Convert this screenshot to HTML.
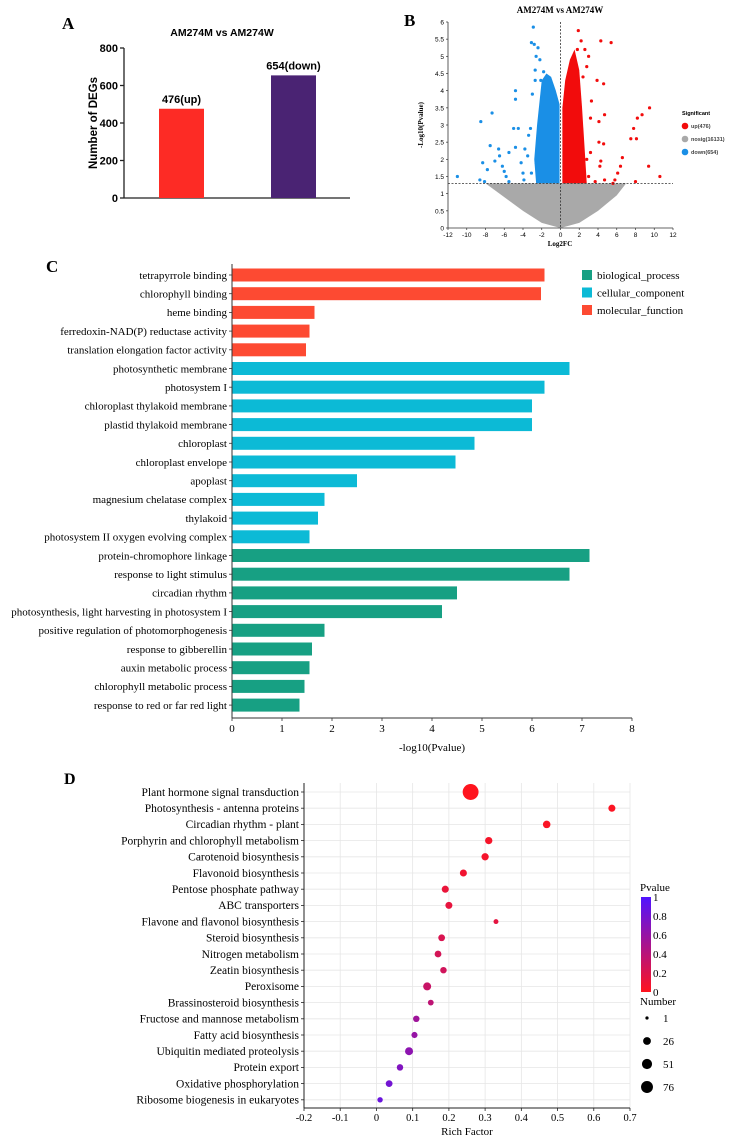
<!DOCTYPE html>
<html><head><meta charset="utf-8"><style>
html,body{margin:0;padding:0;background:#fff;}
svg{display:block;}
.sans{font-family:"Liberation Sans",sans-serif;}
.serif{font-family:"Liberation Serif",serif;}
</style></head><body>
<svg id="fig" width="733" height="1145" viewBox="0 0 733 1145" xmlns="http://www.w3.org/2000/svg">
<g id="pA"></g>
<g id="pB"></g>
<g id="pC"></g>
<g id="pD"></g>
</svg>
<script>
// ---------- Panel A data ----------
const aCats = ["up","down"];
const aVals = [476, 654];
const aLabels = ["476(up)","654(down)"];
const aTicks = [0,200,400,600,800];
// ---------- Panel B data ----------
const bBlueX = [-11,-8.5,-7.3,-8.3,-7.8,-7.5,-7,-6.6,-6.5,-6.2,-6,-5.8,-5.5,-5.5,-5,-4.8,-4.5,-4.2,-4,-3.9,-3.8,-3.4,-3.2,-3,-2.9,-3.1,-2.8,-2.4,-2.6,-2.7,-2.2,-2.7,-4.8,-4.8,-8.6,-8.1,-3.5,-2.6,-3.1,-1.8,-2.1];
const bBlueY = [1.5,3.1,3.35,1.9,1.7,2.4,1.95,2.3,2.1,1.8,1.65,1.5,1.35,2.2,2.9,2.35,2.9,1.9,1.6,1.4,2.3,2.7,2.9,3.9,5.85,5.4,5.35,5.25,5.0,4.6,4.9,4.3,4.0,3.75,1.4,1.35,2.1,1.9,1.6,4.55,4.3];
const bRedX = [1.9,2.2,4.3,5.4,1.8,2.6,3.0,2.8,3.9,4.6,2.4,3.3,4.7,4.1,3.2,9.5,8.7,8.2,7.8,8.1,7.5,4.1,4.6,6.6,6.4,6.1,5.8,5.6,9.4,10.6,8,4.3,3.2,2.8,4.2,4.7,3.7,3.0];
const bRedY = [5.75,5.45,5.45,5.4,5.2,5.2,5.0,4.7,4.3,4.2,4.4,3.7,3.3,3.1,3.2,3.5,3.3,3.2,2.9,2.6,2.6,2.5,2.45,2.05,1.8,1.6,1.4,1.3,1.8,1.5,1.35,1.95,2.2,2.0,1.8,1.4,1.35,1.5];
const bBlueEnvX = [-0.1,-0.1,-0.5,-1,-1.5,-2,-2.5,-2.8,-2.6];
const bBlueEnvY = [1.3,3.6,4.0,4.4,4.5,4.3,3.0,2.0,1.3];
const bRedEnvX = [0.2,0.2,0.5,1,1.5,2,2.3,2.6,2.8];
const bRedEnvY = [1.3,3.5,4.3,4.9,5.2,4.6,3.5,2.2,1.3];
const bGreyEnvX = [-8,-6,-4,-2,0,2,4,6,7];
const bGreyEnvY = [1.3,0.9,0.5,0.15,0,0.15,0.5,0.95,1.3];
const bXTicks = [-12,-10,-8,-6,-4,-2,0,2,4,6,8,10,12];
const bYTicks = [0,0.5,1,1.5,2,2.5,3,3.5,4,4.5,5,5.5,6];
const bLegend = ["up(476)","nosig(16131)","down(654)"];
// ---------- Panel C data ----------
const cTerms = ["tetrapyrrole binding","chlorophyll binding","heme binding","ferredoxin-NAD(P) reductase activity","translation elongation factor activity","photosynthetic membrane","photosystem I","chloroplast thylakoid membrane","plastid thylakoid membrane","chloroplast","chloroplast envelope","apoplast","magnesium chelatase complex","thylakoid","photosystem II oxygen evolving complex","protein-chromophore linkage","response to light stimulus","circadian rhythm","photosynthesis, light harvesting in photosystem I","positive regulation of photomorphogenesis","response to gibberellin","auxin metabolic process","chlorophyll metabolic process","response to red or far red light"];
const cValues = [6.25,6.18,1.65,1.55,1.48,6.75,6.25,6.0,6.0,4.85,4.47,2.5,1.85,1.72,1.55,7.15,6.75,4.5,4.2,1.85,1.6,1.55,1.45,1.35];
const cGroups = ["mf","mf","mf","mf","mf","cc","cc","cc","cc","cc","cc","cc","cc","cc","cc","bp","bp","bp","bp","bp","bp","bp","bp","bp"];
const cTicks = [0,1,2,3,4,5,6,7,8];
// ---------- Panel D data ----------
const dPaths = ["Plant hormone signal transduction","Photosynthesis - antenna proteins","Circadian rhythm - plant","Porphyrin and chlorophyll metabolism","Carotenoid biosynthesis","Flavonoid biosynthesis","Pentose phosphate pathway","ABC transporters","Flavone and flavonol biosynthesis","Steroid biosynthesis","Nitrogen metabolism","Zeatin biosynthesis","Peroxisome","Brassinosteroid biosynthesis","Fructose and mannose metabolism","Fatty acid biosynthesis","Ubiquitin mediated proteolysis","Protein export","Oxidative phosphorylation","Ribosome biogenesis in eukaryotes"];
const dRich = [0.26,0.65,0.47,0.31,0.30,0.24,0.19,0.20,0.33,0.18,0.17,0.185,0.14,0.15,0.11,0.105,0.09,0.065,0.035,0.01];
const dNumber = [76,8,10,9,9,8,8,8,2,7,7,6,12,4,6,5,12,6,7,3];
const dPvalue = [0.0,0.02,0.03,0.05,0.06,0.08,0.12,0.14,0.15,0.22,0.25,0.27,0.32,0.38,0.55,0.6,0.65,0.72,0.8,0.85];
const dTicks = [-0.2,-0.1,0,0.1,0.2,0.3,0.4,0.5,0.6,0.7];
const dPTicks = [0,0.2,0.4,0.6,0.8,1];
const dNumLegend = [1,26,51,76];

const NS="http://www.w3.org/2000/svg";
function mk(parent,tag,attrs,text){const e=document.createElementNS(NS,tag);for(const k in attrs)e.setAttribute(k,attrs[k]);if(text!==undefined)e.textContent=text;parent.appendChild(e);return e;}

// ===== Panel A =====
(function(){
const g=document.getElementById('pA');
const x0=124,x1=350,yb=198,yt=48;
const ys=v=>yb-(v/800)*(yb-yt);
let t=mk(g,'text',{x:62,y:29,'font-family':'Liberation Serif, serif','font-weight':'bold','font-size':17});t.textContent='A';


t=mk(g,'text',{x:222,y:36,'text-anchor':'middle','class':'sans','font-weight':'bold','font-size':10.5},'AM274M vs AM274W');


mk(g,'line',{x1:x0,y1:yt,x2:x0,y2:yb,stroke:'#222','stroke-width':1.3});
mk(g,'line',{x1:x0,y1:yb,x2:x1,y2:yb,stroke:'#222','stroke-width':1.3});
aTicks.forEach(v=>{const y=ys(v);mk(g,'line',{x1:x0-4,y1:y,x2:x0,y2:y,stroke:'#222','stroke-width':1.3});
 const tt=mk(g,'text',{x:x0-6,y:y+4,'text-anchor':'end','class':'sans','font-weight':'bold','font-size':11},String(v));
 
 });
t=mk(g,'text',{transform:'translate(97,123) rotate(-90)','text-anchor':'middle','class':'sans','font-weight':'bold','font-size':11.5},'Number of DEGs');


const cols=['#fd2b25','#4a2373'];const cx=[181.5,293.5];
aVals.forEach((v,i)=>{const r=mk(g,'rect',{x:cx[i]-22.5,y:ys(v),width:45,height:yb-ys(v),fill:cols[i]});
 
 
 const l=mk(g,'text',{x:cx[i],y:ys(v)-6,'text-anchor':'middle','class':'sans','font-weight':'bold','font-size':11},aLabels[i]);
 
 });
})();

// ===== Panel B =====
(function(){
const g=document.getElementById('pB');
const X0=448,X1=673,Y0=228,Y1=22;
const xs=v=>X0+(v+12)/24*(X1-X0), ys=v=>Y0-v/6*(Y0-Y1);
let t=mk(g,'text',{x:404,y:26,'font-family':'Liberation Serif, serif','font-weight':'bold','font-size':17},'B');


t=mk(g,'text',{x:560,y:13,'text-anchor':'middle','font-family':'Liberation Serif, serif','font-weight':'bold','font-size':9},'AM274M vs AM274W');


let pts=bGreyEnvX.map((x,i)=>xs(x)+','+ys(bGreyEnvY[i])).join(' ');
let p=mk(g,'polygon',{points:pts,fill:'#a9a9a9'});


pts=bBlueEnvX.map((x,i)=>xs(x)+','+ys(bBlueEnvY[i])).join(' ');
p=mk(g,'polygon',{points:pts,fill:'#1a8fe6'});


pts=bRedEnvX.map((x,i)=>xs(x)+','+ys(bRedEnvY[i])).join(' ');
p=mk(g,'polygon',{points:pts,fill:'#f20c0c'});


bBlueX.forEach((x,i)=>{const c=mk(g,'circle',{cx:xs(x),cy:ys(bBlueY[i]),r:1.6,fill:'#1a8fe6'});
 
 });
bRedX.forEach((x,i)=>{const c=mk(g,'circle',{cx:xs(x),cy:ys(bRedY[i]),r:1.6,fill:'#f20c0c'});
 
 });
mk(g,'line',{x1:X0,y1:ys(1.3),x2:X1,y2:ys(1.3),stroke:'#333','stroke-width':0.8,'stroke-dasharray':'2,1.5'});
mk(g,'line',{x1:xs(0),y1:Y1,x2:xs(0),y2:Y0,stroke:'#333','stroke-width':0.8,'stroke-dasharray':'2,1.5'});
mk(g,'line',{x1:X0,y1:Y1,x2:X0,y2:Y0,stroke:'#333','stroke-width':0.8});
mk(g,'line',{x1:X0,y1:Y0,x2:X1,y2:Y0,stroke:'#333','stroke-width':0.8});
bYTicks.forEach(v=>{mk(g,'line',{x1:X0-2,y1:ys(v),x2:X0,y2:ys(v),stroke:'#333','stroke-width':0.7});
 const tt=mk(g,'text',{x:X0-4,y:ys(v)+2.5,'text-anchor':'end','class':'sans','font-size':6.5},String(v));
 
 });
bXTicks.forEach(v=>{mk(g,'line',{x1:xs(v),y1:Y0,x2:xs(v),y2:Y0+2,stroke:'#333','stroke-width':0.7});
 const tt=mk(g,'text',{x:xs(v),y:Y0+9,'text-anchor':'middle','class':'sans','font-size':6.5},String(v));
 
 });
t=mk(g,'text',{x:560,y:246,'text-anchor':'middle','font-family':'Liberation Serif, serif','font-weight':'bold','font-size':7},'Log2FC');


t=mk(g,'text',{transform:'translate(423,125) rotate(-90)','text-anchor':'middle','font-family':'Liberation Serif, serif','font-weight':'bold','font-size':7},'-Log10(Pvalue)');


t=mk(g,'text',{x:682,y:115,'class':'sans','font-weight':'bold','font-size':5.5},'Significant');


const lc=['#f20c0c','#a9a9a9','#1a8fe6'];
bLegend.forEach((s,i)=>{const y=126+i*13;
 const c=mk(g,'circle',{cx:685,cy:y,r:3.3,fill:lc[i]});
 
 
 const tt=mk(g,'text',{x:691,y:y+2,'class':'sans','font-weight':'bold','font-size':5.5,fill:'#444'},s);
 
 });
})();

// ===== Panel C =====
(function(){
const g=document.getElementById('pC');
const X0=232,X1=632,top=275,step=18.7,axY=718;
const xs=v=>X0+v/8*(X1-X0);
const col={mf:'#fd4a32',cc:'#0cbad6',bp:'#17a083'};
let t=mk(g,'text',{x:46,y:272,'font-family':'Liberation Serif, serif','font-weight':'bold','font-size':17},'C');


cTerms.forEach((n,i)=>{const y=top+i*step;
 const r=mk(g,'rect',{x:X0,y:y-6.5,width:xs(cValues[i])-X0,height:13,fill:col[cGroups[i]]});
 
 
 mk(g,'line',{x1:X0-3,y1:y,x2:X0,y2:y,stroke:'#333','stroke-width':0.8});
 const tt=mk(g,'text',{x:X0-5,y:y+3.8,'text-anchor':'end','class':'serif','font-size':11},n);
 
 });
mk(g,'line',{x1:X0,y1:top-11,x2:X0,y2:axY,stroke:'#333','stroke-width':1});
mk(g,'line',{x1:X0,y1:axY,x2:X1,y2:axY,stroke:'#333','stroke-width':1});
cTicks.forEach(v=>{mk(g,'line',{x1:xs(v),y1:axY,x2:xs(v),y2:axY+3,stroke:'#333','stroke-width':0.8});
 const tt=mk(g,'text',{x:xs(v),y:axY+14,'text-anchor':'middle','class':'serif','font-size':11},String(v));
 
 });
t=mk(g,'text',{x:432,y:751,'text-anchor':'middle','class':'serif','font-size':11},'-log10(Pvalue)');


const lg=[['biological_process','bp'],['cellular_component','cc'],['molecular_function','mf']];
lg.forEach((e,i)=>{const y=275+i*17.5;
 const r=mk(g,'rect',{x:582,y:y-5,width:10,height:10,fill:col[e[1]]});
 
 
 const tt=mk(g,'text',{x:597,y:y+4,'class':'serif','font-size':11},e[0]);
 
 });
})();

// ===== Panel D =====
(function(){
const g=document.getElementById('pD');
const X0=304,X1=630,top=792,step=16.2,axY=1108;
const xs=v=>X0+(v+0.2)/0.9*(X1-X0);
const rs=n=>1.4+0.75*Math.sqrt(n);
const pc=p=>{const r=Math.round(255-(255-80)*p),b=Math.round(30+(255-30)*p);return 'rgb('+r+',20,'+b+')';};
let t=mk(g,'text',{x:64,y:784,'font-family':'Liberation Serif, serif','font-weight':'bold','font-size':16},'D');


dTicks.forEach(v=>{mk(g,'line',{x1:xs(v),y1:783,x2:xs(v),y2:axY,stroke:'#e6e6e6','stroke-width':0.8});});
dPaths.forEach((n,i)=>{const y=top+i*step;
 mk(g,'line',{x1:X0,y1:y,x2:X1,y2:y,stroke:'#e6e6e6','stroke-width':0.8});});
mk(g,'line',{x1:X0,y1:783,x2:X0,y2:axY,stroke:'#222','stroke-width':1});
mk(g,'line',{x1:X0,y1:axY,x2:X1,y2:axY,stroke:'#222','stroke-width':1});
dPaths.forEach((n,i)=>{const y=top+i*step;
 mk(g,'line',{x1:X0-3,y1:y,x2:X0,y2:y,stroke:'#222','stroke-width':0.8});
 const tt=mk(g,'text',{x:X0-5,y:y+3.8,'text-anchor':'end','class':'serif','font-size':11.5},n);
 
 
 const c=mk(g,'circle',{cx:xs(dRich[i]),cy:y,r:rs(dNumber[i]),fill:pc(dPvalue[i])});
 
 });
dTicks.forEach(v=>{mk(g,'line',{x1:xs(v),y1:axY,x2:xs(v),y2:axY+3,stroke:'#222','stroke-width':0.8});
 const tt=mk(g,'text',{x:xs(v),y:axY+13,'text-anchor':'middle','class':'serif','font-size':10.5},String(v));
 
 });
t=mk(g,'text',{x:467,y:1135,'text-anchor':'middle','class':'serif','font-size':11},'Rich Factor');


t=mk(g,'text',{x:640,y:891,'class':'serif','font-size':11},'Pvalue');


const defs=mk(g,'defs',{});const lgd=mk(defs,'linearGradient',{id:'pg',x1:0,y1:0,x2:0,y2:1});
mk(lgd,'stop',{offset:'0','stop-color':pc(1)});mk(lgd,'stop',{offset:'1','stop-color':pc(0)});
const gy0=897,gy1=992;
const gb=mk(g,'rect',{x:641,y:gy0,width:10,height:gy1-gy0,fill:'url(#pg)'});


dPTicks.forEach(v=>{const y=gy1-v*(gy1-gy0);
 const tt=mk(g,'text',{x:653,y:y+4,'class':'serif','font-size':11},String(v));
 
 });
t=mk(g,'text',{x:640,y:1005,'class':'serif','font-size':11},'Number');


dNumLegend.forEach((n,i)=>{const y=1018+i*23;
 const c=mk(g,'circle',{cx:647,cy:y,r:rs(n)*0.75,fill:'#000'});
 
 
 const tt=mk(g,'text',{x:663,y:y+4,'class':'serif','font-size':11},String(n));
 
 });
})();
</script>
</body></html>
